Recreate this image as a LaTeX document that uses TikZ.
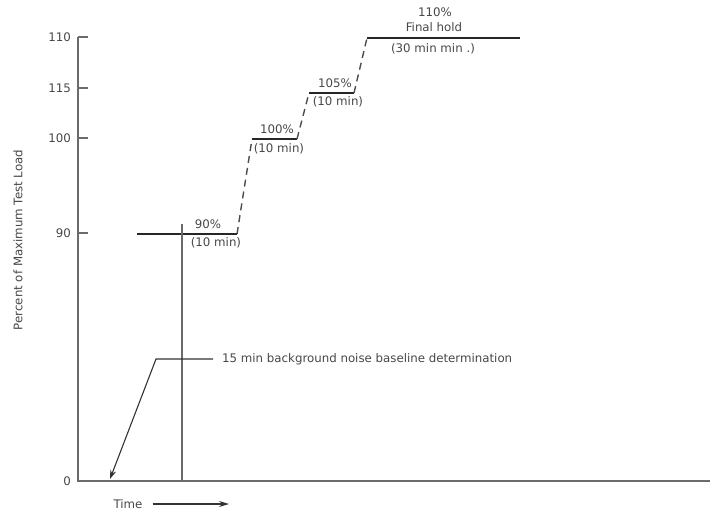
\documentclass[tikz,border=0pt]{standalone}
\usepackage{fontspec}
\setmainfont{DejaVu Sans}
\usetikzlibrary{arrows.meta}

\definecolor{axisgray}{gray}{0.42}
\definecolor{textgray}{gray}{0.28}

\tikzset{
	axisline/.style={axisgray, line width=1.6pt},
	holdline/.style={black!85, line width=2pt},
	rampline/.style={black!70, line width=1.4pt, dash pattern=on 7pt off 5pt},
	leaderline/.style={black!80, line width=1.1pt},
	lbl/.style={textgray, font=\fontsize{11.8}{13}\selectfont, inner sep=1pt},
}

\begin{document}
\begin{tikzpicture}[x=1pt, y=-1pt]
		\useasboundingbox (0,0) rectangle (710,512);

		% axes
		\coordinate (top)		at (78,37);
		\coordinate (origin)	at (78,481);
		\coordinate (xend)		at (710,481);
		\draw[axisline]	(top) -- (origin) -- (xend);

		\foreach \y/\t/\n in {37/110/a, 88/115/b, 138/100/c, 233/90/d}{
			\draw[axisline]	(78,\y) -- (88,\y);
			\node[lbl, anchor=east] (tick\n) at (72,\y) {\t};
		}
		\node[lbl, anchor=east] (tickz) at (72,481) {0};

		\node[lbl, rotate=90] (ylabel) at (18,240) {Percent of Maximum Test Load};

		% load holds
		\coordinate (h90a)	at (137,234);
		\coordinate (h90b)	at (237,234);
		\coordinate (h100a)	at (252,139);
		\coordinate (h100b)	at (297,139);
		\coordinate (h105a)	at (309,93);
		\coordinate (h105b)	at (354,93);
		\coordinate (h110a)	at (367,38);
		\coordinate (h110b)	at (520,38);

		\draw[holdline]	(h90a) -- (h90b);
		\draw[holdline]	(h100a) -- (h100b);
		\draw[holdline]	(h105a) -- (h105b);
		\draw[holdline]	(h110a) -- (h110b);

		\draw[rampline]	(h90b) -- (h100a);
		\draw[rampline]	(h100b) -- (h105a);
		\draw[rampline]	(h105b) -- (h110a);

		% end of baseline period
		\coordinate (mark)		at (182,224);
		\coordinate (markfoot)	at (182,481);
		\draw[axisline, line width=1.3pt]	(mark) -- (markfoot);

		\node[lbl] (l90)	at (208,224) {90\%};
		\node[lbl] (t90)	at (216,243) {(10 min)};
		\node[lbl] (l100)	at (277,129) {100\%};
		\node[lbl] (t100)	at (279,149) {(10 min)};
		\node[lbl] (l105)	at (335,83) {105\%};
		\node[lbl] (t105)	at (338,102) {(10 min)};
		\node[lbl] (l110)	at (435,12) {110\%};
		\node[lbl] (fin)	at (434,27) {Final hold};
		\node[lbl] (t110)	at (433,49) {(30 min min .)};

		% baseline note
		\node[lbl, anchor=west] (noise) at (221,359) {15 min background noise baseline determination};
		\coordinate (bend)	at (156,359);
		\coordinate (start)	at (110,479);
		\draw[leaderline, -{Stealth[length=9pt, width=6pt]}]	([xshift=-8pt]noise.west) -- (bend) -- (start);

		% time axis
		\node[lbl] (time) at (128,504) {Time};
		\coordinate (tend) at (229,504);
		\draw[leaderline, -{Stealth[length=10pt, width=6pt]}]	([xshift=9pt]time.east) -- (tend);
	\end{tikzpicture}
\end{document}
